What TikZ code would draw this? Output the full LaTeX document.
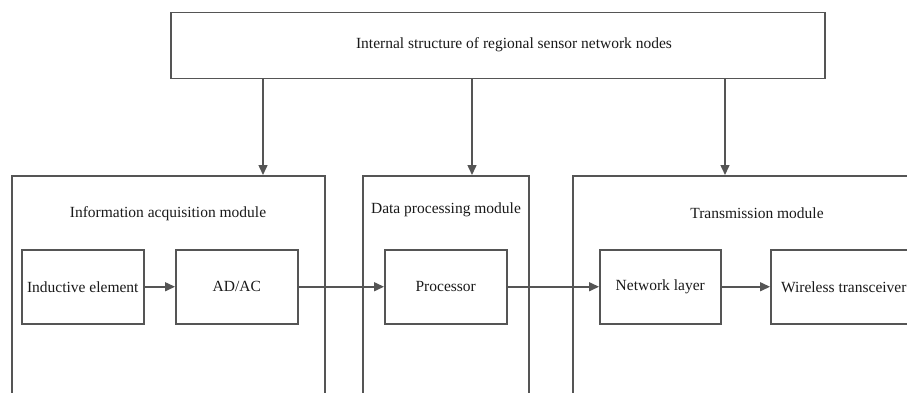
\documentclass[tikz,border=0pt]{standalone}
\usepackage{fontspec}
\setmainfont{Liberation Serif}
\usetikzlibrary{arrows.meta}
\definecolor{lc}{RGB}{85,85,85}
\definecolor{tc}{RGB}{25,25,25}
\begin{document}
\begin{tikzpicture}[x=1pt,y=-1pt,
  box/.style={draw=lc, line width=1.5pt, rectangle, inner sep=0pt, anchor=north west,
    text=tc, font=\fontsize{15.5}{18}\selectfont},
  arr/.style={draw=lc, line width=1.5pt, -{Triangle[length=10pt,width=9pt]}},
  lbl/.style={font=\fontsize{15.5}{18}\selectfont, text=tc, inner sep=0pt}
]
\useasboundingbox (0,0) rectangle (907,393);
\clip (0,0) rectangle (907,393);

% top box
\node[box, minimum width=654pt, minimum height=66pt] (top) at (170,12) {};
\node[lbl] (toptxt) at (514,45) {Internal structure of regional sensor network nodes};

% modules
\node[box, minimum width=313pt, minimum height=260pt] (modA) at (11,175) {};
\node[box, minimum width=166pt, minimum height=260pt] (modB) at (362,175) {};
\node[box, minimum width=370pt, minimum height=260pt] (modC) at (572,175) {};
\node[lbl] (tA) at (168,214) {Information acquisition module};
\node[lbl] (tB) at (446,210) {Data processing module};
\node[lbl] (tC) at (757,213) {Transmission module};

% inner boxes
\node[box, minimum width=122pt, minimum height=74pt] (ind) at (21,249) {Inductive element};
\node[box, minimum width=122pt, minimum height=74pt] (adac) at (175,249) {AD/AC};
\node[box, minimum width=122pt, minimum height=74pt] (proc) at (384,249) {Processor};
\node[box, minimum width=121pt, minimum height=74pt] (net) at (599,249) {Network layer};
\node[box, minimum width=146pt, minimum height=74pt] (wire) at (770,249) {Wireless transceiver};

% connectors from the top box
\coordinate (cA) at (263,0);
\coordinate (cB) at (472,0);
\coordinate (cC) at (725,0);
\draw[arr] (top.south -| cA) -- (modA.north -| cA);
\draw[arr] (top.south -| cB) -- (modB.north -| cB);
\draw[arr] (top.south -| cC) -- (modC.north -| cC);

% horizontal flow
\draw[arr] (ind) -- (adac);
\draw[arr] (adac) -- (proc);
\draw[arr] (proc) -- (net);
\draw[arr] (net) -- (wire);
\end{tikzpicture}
\end{document}
